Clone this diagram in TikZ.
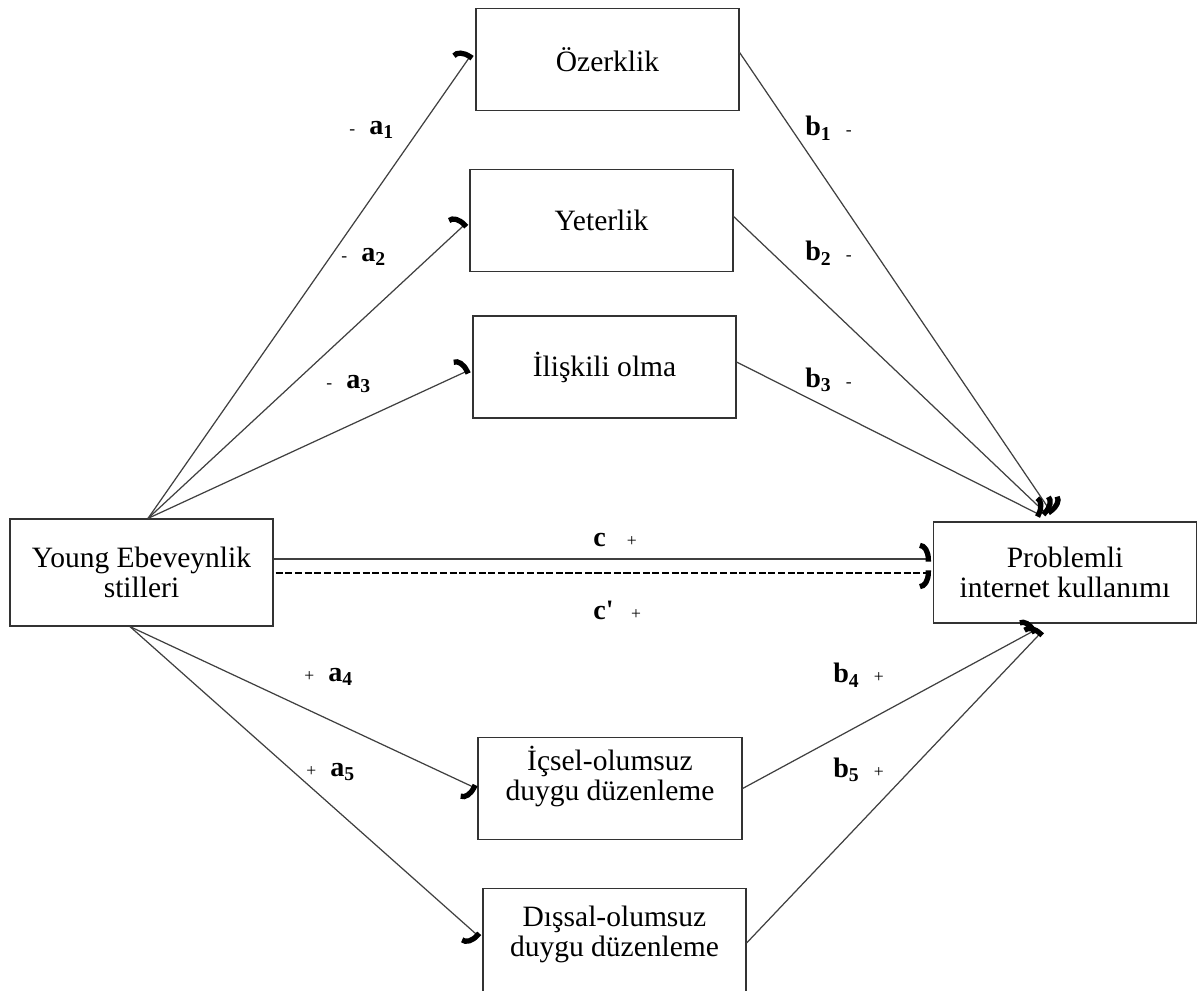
\documentclass[tikz,border=0pt]{standalone}
\usepackage{fontspec}
\setmainfont{Liberation Serif}
\usetikzlibrary{calc, arrows.meta}

\newcommand{\sgn}[1]{{\mdseries\fontsize{10}{12}\selectfont #1}}

\begin{document}
\begin{tikzpicture}[x=0.02cm,y=-0.02cm,
  box/.style={draw=black!80,line width=0.7pt,minimum width=5.26cm,minimum height=2.04cm,inner sep=0pt,align=center,font=\fontsize{16.8}{17}\selectfont},
  hookarrow/.style={black!75,line width=0.7pt,-{Arc Barb[harpoon,length=2.2mm,width=6.5mm,line width=3pt,black]}},
  hookswap/.style={black!75,line width=0.7pt,-{Arc Barb[harpoon,swap,length=2.2mm,width=6.5mm,line width=3pt,black]}},
  lbl/.style={anchor=west,inner sep=0pt,font=\fontsize{16}{18}\selectfont\bfseries}]
\useasboundingbox (0,0) rectangle (1199,990);
% Mediators on top
\node[box] (ozerk) at (607.5,59.5) {Özerklik};
\node[box] (yeter) at (601.5,220.5) {Yeterlik};
\node[box] (iliski) at (604.5,367) {İlişkili olma};
% Predictor and outcome
\node[box,minimum height=2.14cm] (young) at (141.5,572.5) {Young Ebeveynlik\\stilleri};
\node[box,minimum height=2.02cm] (pik) at (1065,572.5) {Problemli\\internet kullanımı};
% Mediators below
\node[box,minimum width=5.28cm] (icsel) at (610,788.5) {İçsel-olumsuz\\duygu düzenleme\\~};
\node[box,minimum height=2.3cm] (dissal) at (614.5,946) {Dışsal-olumsuz\\duygu düzenleme\\~};
% Paths a
\draw[hookarrow] ($(young.north)+(6.5,0)$) -- ($(ozerk.west)+(-4,-5)$);
\draw[hookarrow] ($(young.north)+(6.5,0)$) -- ($(yeter.west)+(-3,2.5)$);
\draw[hookarrow] ($(young.north)+(6.5,0)$) -- ($(iliski.west)+(-3,3)$);
\draw[hookswap] ($(young.south)+(-11.5,0)$) -- ($(icsel.west)+(-1,0)$);
\draw[hookswap] ($(young.south)+(-11.5,0)$) -- ($(dissal.west)+(-3,-9)$);
% Paths b
\draw[hookarrow] ($(ozerk.east)+(0,-7)$) -- ($(pik.north)+(-13,-8)$);
\draw[hookarrow] ($(yeter.east)+(0,-4)$) -- ($(pik.north)+(-18,-7)$);
\draw[hookarrow] ($(iliski.east)+(0,-5)$) -- ($(pik.north)+(-24,-6)$);
\draw[hookarrow] (icsel.east) -- ($(pik.south)+(-29,6)$);
\draw[hookarrow] ($(dissal.east)+(0,-3)$) -- ($(pik.south)+(-23,8)$);
% Paths c and c'
\draw[hookarrow] ($(young.east)+(0,-13.5)$) -- ($(pik.west)+(-2,-13.5)$);
\draw[hookswap,black,line width=1pt,dash pattern=on 4pt off 1.5pt] ($(young.east)+(2,0.5)$) -- ($(pik.west)+(-2,0.5)$);
% Labels
\node[lbl] (la1) at (349,130) {\sgn{-}\hspace{8pt}a\textsubscript{1}};
\node[lbl] (la2) at (341,257) {\sgn{-}\hspace{8pt}a\textsubscript{2}};
\node[lbl] (la3) at (326,384) {\sgn{-}\hspace{8pt}a\textsubscript{3}};
\node[lbl] (lb1) at (805,128) {b\textsubscript{1}\hspace{8pt}\sgn{-}};
\node[lbl] (lb2) at (805,253) {b\textsubscript{2}\hspace{8pt}\sgn{-}};
\node[lbl] (lb3) at (805,380) {b\textsubscript{3}\hspace{8pt}\sgn{-}};
\node[lbl] (lc) at (593,540) {c\hspace{12pt}\sgn{+}};
\node[lbl] (lcp) at (593,610) {c\textquotesingle\hspace{10pt}\sgn{+}};
\node[lbl] (la4) at (304,677) {\sgn{+}\hspace{8pt}a\textsubscript{4}};
\node[lbl] (la5) at (306,772) {\sgn{+}\hspace{8pt}a\textsubscript{5}};
\node[lbl] (lb4) at (833,675) {b\textsubscript{4}\hspace{8pt}\sgn{+}};
\node[lbl] (lb5) at (833,770) {b\textsubscript{5}\hspace{8pt}\sgn{+}};
\end{tikzpicture}
\end{document}
